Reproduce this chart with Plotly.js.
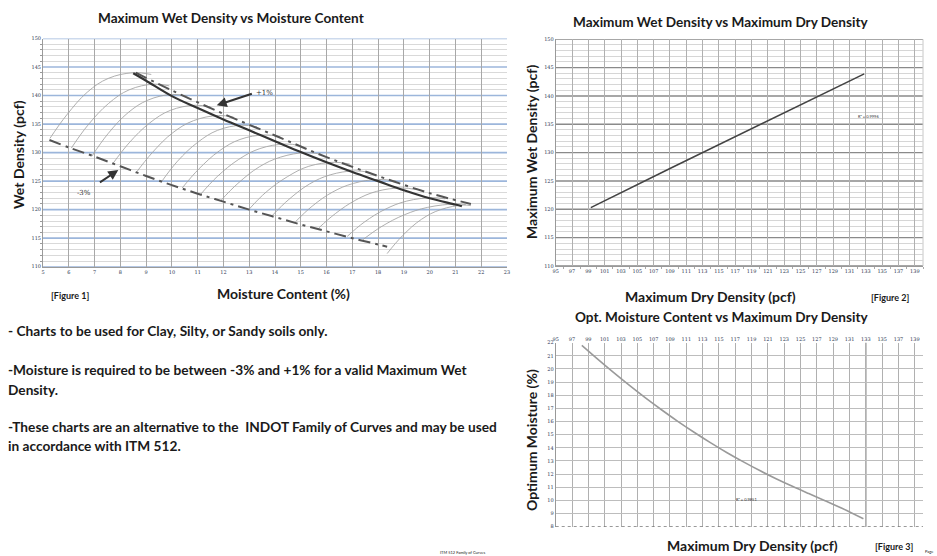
<!DOCTYPE html>
<html><head><meta charset="utf-8">
<script src="https://cdn.plot.ly/plotly-3.0.1.min.js"></script>
<style>html,body{margin:0;padding:0;background:#fff;}#chart{width:937px;height:556px;}</style>
</head><body><div id="chart"></div>
<script>
// ---------- Figure 1 data ----------
const peakLineX = [8.5, 9, 10, 11, 12, 13, 14, 15, 16, 17, 18, 19, 20, 21, 21.25];
const peakLineY = [143.9, 142.6, 139.9, 137.8, 135.8, 133.9, 132.0, 130.1, 128.3, 126.6, 125.0, 123.4, 122.0, 120.9, 120.6];
const plusOneX = [8.6, 10, 12, 14, 16, 18, 20, 21.6];
const plusOneY = [144.0, 140.9, 136.8, 133.0, 129.2, 125.9, 122.9, 121.0];
const minusThreeX = [5.25, 6, 7, 8, 9, 10, 11, 12, 13, 14, 15, 16, 17, 18, 18.35];
const minusThreeY = [132.2, 130.9, 129.3, 127.6, 125.9, 124.3, 122.8, 121.4, 120.0, 118.7, 117.4, 116.2, 115.0, 113.9, 113.5];
const familyX = [
  [5.27, 5.92, 6.72, 7.53, 8.5, 9.2],
  [6.1, 6.74, 7.54, 8.34, 9.3, 9.9],
  [6.9, 7.52, 8.3, 9.07, 10.0, 10.6],
  [7.7, 8.34, 9.14, 9.94, 10.9, 11.5],
  [8.6, 9.24, 10.04, 10.84, 11.8, 12.4],
  [9.6, 10.22, 11.0, 11.77, 12.7, 13.3],
  [10.4, 11.04, 11.84, 12.64, 13.6, 14.2],
  [11.1, 11.76, 12.59, 13.41, 14.4, 15.0],
  [11.9, 12.56, 13.39, 14.21, 15.2, 15.8],
  [13.0, 13.66, 14.49, 15.31, 16.3, 16.9],
  [13.9, 14.54, 15.34, 16.14, 17.1, 17.7],
  [14.8, 15.44, 16.24, 17.04, 18.0, 18.7],
  [15.7, 16.34, 17.14, 17.94, 18.9, 19.5],
  [16.8, 17.46, 18.29, 19.11, 20.1, 20.6],
  [17.4, 18.12, 19.02, 19.92, 21.0, 21.4],
  [18.35, 18.94, 19.68, 20.42, 21.3, 21.6]
];
const familyY = [
  [132.5, 136.6, 140.6, 143.0, 144.0, 143.7],
  [130.8, 134.8, 138.6, 141.0, 142.0, 141.7],
  [129.4, 133.3, 137.0, 139.2, 140.2, 139.9],
  [128.0, 131.7, 135.2, 137.4, 138.3, 138.0],
  [126.4, 130.0, 133.5, 135.6, 136.5, 136.2],
  [124.9, 128.5, 131.8, 133.9, 134.8, 134.5],
  [123.8, 127.1, 130.3, 132.3, 133.1, 132.8],
  [122.6, 125.8, 128.8, 130.7, 131.5, 131.2],
  [121.6, 124.6, 127.5, 129.2, 130.0, 129.7],
  [120.1, 123.1, 125.8, 127.6, 128.3, 128.0],
  [119.0, 121.8, 124.5, 126.1, 126.8, 126.5],
  [117.9, 120.6, 123.1, 124.6, 125.3, 125.0],
  [116.8, 119.3, 121.7, 123.2, 123.8, 123.5],
  [115.3, 117.8, 120.1, 121.5, 122.1, 121.9],
  [114.7, 117.0, 119.1, 120.4, 121.0, 120.9],
  [112.3, 115.4, 118.3, 120.0, 120.8, 120.7]
];
// ---------- Figure 2 data ----------
const dryDensity2 = [99.3, 109.0, 132.8];
const wetDensity2 = [120.3, 127.2, 143.9];
// ---------- Figure 3 data ----------
const dryDensity3 = [98.2, 100, 102, 104, 106, 108, 110, 112, 114, 116, 118, 120, 122, 124, 126, 128, 130, 132.7];
const optMoisture3 = [21.8, 20.83, 19.78, 18.77, 17.8, 16.88, 16.0, 15.17, 14.38, 13.63, 12.93, 12.27, 11.65, 11.07, 10.52, 9.98, 9.42, 8.6];
// ---------- tick labels ----------
const densityTicks = [110, 115, 120, 125, 130, 135, 140, 145, 150];
const densityMinor = [111,112,113,114,116,117,118,119,121,122,123,124,126,127,128,129,131,132,133,134,136,137,138,139,141,142,143,144,146,147,148,149];
const moistureTicks = [5, 6, 7, 8, 9, 10, 11, 12, 13, 14, 15, 16, 17, 18, 19, 20, 21, 22, 23];
const dryTicks = [95, 97, 99, 101, 103, 105, 107, 109, 111, 113, 115, 117, 119, 121, 123, 125, 127, 129, 131, 133, 135, 137, 139];
const dryMinorTicks = [96,98,100,102,104,106,108,110,112,114,116,118,120,122,124,126,128,130,132,134,136,138,140];
const optTicks = [8, 9, 10, 11, 12, 13, 14, 15, 16, 17, 18, 19, 20, 21, 22];

const W = 937, H = 556;
const px = v => v / W, py = v => 1 - v / H;
const FONT = 'Lato, "Open Sans", sans-serif';
const TXT = '#1a1a1a';

const traces = [];
for (let i = 0; i < familyX.length; i++) {
  traces.push({x: familyX[i], y: familyY[i], type: 'scatter', mode: 'lines', xaxis: 'x', yaxis: 'y',
    line: {color: '#a0a0a0', width: 0.85, shape: 'spline', smoothing: 1.1}, hoverinfo: 'skip'});
}
traces.push({x: minusThreeX, y: minusThreeY, type: 'scatter', mode: 'lines', xaxis: 'x', yaxis: 'y',
  line: {color: '#555', width: 2, dash: '12px,5px,3px,5px', shape: 'spline'}});
traces.push({x: plusOneX, y: plusOneY, type: 'scatter', mode: 'lines', xaxis: 'x', yaxis: 'y',
  line: {color: '#555', width: 2, dash: '12px,5px,3px,5px', shape: 'spline'}});
traces.push({x: peakLineX, y: peakLineY, type: 'scatter', mode: 'lines', xaxis: 'x', yaxis: 'y',
  line: {color: '#333', width: 2.2, shape: 'spline'}});
traces.push({x: dryDensity2, y: wetDensity2, type: 'scatter', mode: 'lines', xaxis: 'x2', yaxis: 'y2',
  line: {color: '#444', width: 1.6}});
traces.push({x: dryDensity3, y: optMoisture3, type: 'scatter', mode: 'lines', xaxis: 'x3', yaxis: 'y3',
  line: {color: '#9a9a9a', width: 1.6, shape: 'spline'}});

const tickFont = {family: '"DejaVu Serif", serif', size: 5, color: '#2a3550'};

function ann(text, x, y, size, extra) {
  return Object.assign({text: text, xref: 'paper', yref: 'paper', x: px(x), y: py(y), xanchor: 'center', yanchor: 'middle',
    showarrow: false, font: {size: size, color: TXT}}, extra || {});
}

// major horizontal grid lines drawn as shapes below the traces
const shapes = [];
densityTicks.forEach(v => {
  shapes.push({type: 'line', layer: 'below', xref: 'x domain', yref: 'y', x0: 0, x1: 1, y0: v, y1: v, line: {color: '#9cb6db', width: 1.6}});
  shapes.push({type: 'line', layer: 'below', xref: 'x2 domain', yref: 'y2', x0: 0, x1: 1, y0: v, y1: v, line: {color: '#8a8a8a', width: 1.4}});
});
shapes.push({type: 'line', xref: 'x3', yref: 'y3 domain', x0: 133, x1: 133, y0: 0, y1: 1, layer: 'below', line: {color: '#808080', width: 1.2}});
shapes.push({type: 'line', xref: 'x3 domain', yref: 'y3', x0: 0, x1: 1, y0: 8, y1: 8, line: {color: '#777', width: 1.5, dash: 'dot'}});
shapes.push({type: 'line', xref: 'x2 domain', yref: 'y2 domain', x0: 1, x1: 1, y0: 0, y1: 1, layer: 'below', line: {color: '#c8c8c8', width: 1}});

const layout = {
  width: W, height: H, margin: {l: 0, r: 0, t: 0, b: 0},
  paper_bgcolor: '#fff', plot_bgcolor: '#fff', showlegend: false,
  font: {family: FONT, color: TXT},
  xaxis: {domain: [px(43), px(507)], range: [5, 23], tickmode: 'array', tickvals: moistureTicks, anchor: 'y',
    showgrid: true, gridcolor: '#a8a8a8', gridwidth: 1, zeroline: false,
    showline: true, linecolor: '#9a9a9a', ticks: '', tickfont: tickFont},
  yaxis: {domain: [py(266.7), py(38.5)], range: [110, 150], tickmode: 'array', tickvals: densityTicks, anchor: 'x',
    showgrid: false, zeroline: false,
    minor: {tickmode: 'array', tickvals: densityMinor, showgrid: true, gridcolor: '#d9d9d9', gridwidth: 1, ticks: 'outside', ticklen: 2, tickcolor: '#999'},
    showline: true, linecolor: '#9a9a9a', tickfont: tickFont},
  xaxis2: {domain: [px(555.7), px(923)], range: [95, 140], tickmode: 'array', tickvals: dryTicks, anchor: 'y2',
    showgrid: true, gridcolor: '#b0b0b0', zeroline: false, showline: true, linecolor: '#999',
    tickfont: tickFont,
    minor: {tickmode: 'array', tickvals: dryMinorTicks, ticks: 'outside', ticklen: 2, tickcolor: '#aaa', showgrid: false}},
  yaxis2: {domain: [py(266), py(39.3)], range: [110, 150], tickmode: 'array', tickvals: densityTicks, anchor: 'x2',
    showgrid: false, zeroline: false, showline: true, linecolor: '#999',
    minor: {tickmode: 'array', tickvals: densityMinor, showgrid: true, gridcolor: '#d6d6d6', gridwidth: 1}, tickfont: tickFont},
  xaxis3: {domain: [px(555.7), px(923)], range: [95, 140], tickmode: 'array', tickvals: dryTicks, anchor: 'y3', side: 'top',
    showgrid: true, gridcolor: '#b0b0b0', zeroline: false, showline: false, tickfont: tickFont},
  yaxis3: {domain: [py(526.7), py(342.7)], range: [8, 22], tickmode: 'array', tickvals: optTicks, anchor: 'x3',
    showgrid: true, gridcolor: '#bdbdbd', zeroline: false, showline: true, linecolor: '#999', tickfont: tickFont},
  shapes: shapes,
  annotations: [
    // Figure 1
    ann('<b>Maximum Wet Density vs Moisture Content</b>', 231, 18, 13.6),
    ann('<b>Wet Density (pcf)</b>', 18, 155, 14, {textangle: -90}),
    ann('<b>Moisture Content (%)</b>', 283, 293, 14),
    ann('<b>[Figure 1]</b>', 70, 295, 9),
    {text: '+1%', xref: 'x', yref: 'y', x: 13.2, y: 140.4, showarrow: false, xanchor: 'left', yanchor: 'middle', font: {family: '"DejaVu Serif", serif', size: 7, color: '#333'}},
    {text: '', xref: 'x', yref: 'y', x: 11.74, y: 138.3, axref: 'x', ayref: 'y', ax: 13.16, ay: 140.4, showarrow: true, arrowhead: 2, arrowsize: 1, arrowwidth: 2, arrowcolor: '#333'},
    {text: '-3%', xref: 'x', yref: 'y', x: 6.6, y: 122.9, showarrow: false, xanchor: 'center', yanchor: 'middle', font: {family: '"DejaVu Serif", serif', size: 7, color: '#333'}},
    {text: '', xref: 'x', yref: 'y', x: 7.92, y: 126.95, axref: 'x', ayref: 'y', ax: 7.15, ay: 124.6, showarrow: true, arrowhead: 2, arrowsize: 1, arrowwidth: 2, arrowcolor: '#333'},
    // Figure 2
    ann('<b>Maximum Wet Density vs Maximum Dry Density</b>', 720, 22, 13.6),
    ann('<b>Maximum Wet Density (pcf)</b>', 531, 152, 14, {textangle: -90}),
    ann('<b>Maximum Dry Density (pcf)</b>', 710, 296, 14),
    ann('<b>[Figure 2]</b>', 890, 297, 9),
    {text: 'R² = 0.9996', xref: 'x2', yref: 'y2', x: 133.3, y: 136.3, xanchor: 'center', yanchor: 'middle', showarrow: false, font: {size: 4, color: '#333'}},
    // Figure 3
    ann('<b>Opt. Moisture Content vs Maximum Dry Density</b>', 721, 317, 13.6),
    ann('<b>Optimum Moisture (%)</b>', 531, 440, 14, {textangle: -90}),
    ann('<b>Maximum Dry Density (pcf)</b>', 752, 545, 14),
    ann('<b>[Figure 3]</b>', 894, 546, 9),
    {text: 'R² = 0.9851', xref: 'x3', yref: 'y3', x: 118.4, y: 10.08, xanchor: 'center', yanchor: 'middle', showarrow: false, font: {size: 4, color: '#333'}},
    ann('Page', 929, 551, 4),
    // Notes
    ann('<b>- Charts to be used for Clay, Silty, or Sandy soils only.</b>', 6, 330, 13.7, {xanchor: 'left'}),
    ann('<b>-Moisture is required to be between -3% and +1% for a valid Maximum Wet</b>', 6, 369, 13.7, {xanchor: 'left'}),
    ann('<b>Density.</b>', 6, 389, 13.7, {xanchor: 'left'}),
    ann('<b>-These charts are an alternative to the  INDOT Family of Curves and may be used</b>', 6, 426, 13.7, {xanchor: 'left'}),
    ann('<b>in accordance with ITM 512.</b>', 6, 445, 13.7, {xanchor: 'left'}),
    ann('ITM 512 Family of Curves', 462, 552, 4)
  ]
};
Plotly.newPlot('chart', traces, layout, {staticPlot: true, displayModeBar: false});
</script></body></html>
